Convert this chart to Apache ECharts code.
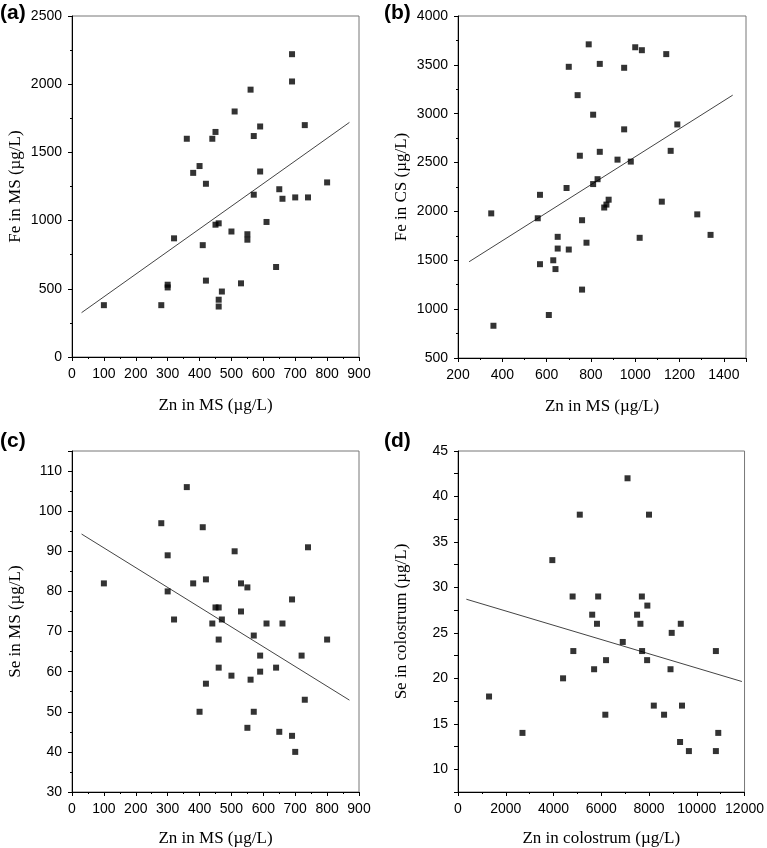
<!DOCTYPE html>
<html>
<head>
<meta charset="utf-8">
<script src="https://cdn.jsdelivr.net/npm/echarts@6/dist/echarts.min.js"></script>
<style>html,body{margin:0;padding:0;background:#fff;}#c{width:767px;height:848px;}</style>
</head>
<body>
<div id="c"></div>
<script>
// Panel (a): Zn in MS vs Fe in MS
const aZn = [100,280,300,300,320,360,380,400,410,420,420,440,450,450,460,460,460,470,500,510,530,550,550,560,570,570,590,590,610,640,650,660,690,690,700,730,740,800];
const aFe = [380,380,530,510,870,1600,1350,1400,820,1270,560,1600,1650,970,980,420,370,480,920,1800,540,900,860,1960,1620,1190,1690,1360,990,660,1230,1160,2220,2020,1170,1700,1170,1280];
const aFitX = [30,870];
const aFitY = [325,1720];

// Panel (b): Zn in MS vs Fe in CS
const bZn = [350,360,560,570,570,610,630,640,650,650,690,700,700,740,750,760,760,780,790,810,810,830,840,840,860,870,880,920,950,950,980,1000,1020,1030,1120,1140,1160,1190,1280,1340];
const bFe = [1980,830,1930,2170,1460,940,1500,1410,1740,1620,2240,3480,1610,3190,2570,1910,1200,1680,3710,2990,2280,2330,3510,2610,2040,2070,2120,2530,3470,2840,2510,3680,1730,3650,2100,3610,2620,2890,1970,1760];
const bFitX = [250,1440];
const bFitY = [1485,3190];

// Panel (c): Zn in MS vs Se in MS
const cZn = [100,280,300,300,320,360,380,400,410,420,420,440,450,460,460,460,470,500,510,530,530,550,550,560,570,570,590,590,610,640,650,660,690,690,700,720,730,740,800];
const cSe = [82,97,89,80,73,106,82,50,96,83,57,72,76,76,68,61,73,59,90,82,75,81,46,58,69,50,64,60,72,61,45,72,78,44,40,64,53,91,68];
const cFitX = [30,870];
const cFitY = [94.3,52.9];

// Panel (d): Zn in colostrum vs Se in colostrum
const dZn = [1300,2700,3950,4400,4800,4830,5100,5620,5700,5820,5870,6170,6200,6900,7100,7500,7640,7700,7710,7920,7930,8000,8200,8630,8900,8950,9300,9330,9380,9670,10800,10800,10900];
const dSe = [18,14,33,20,29,23,38,27,21,26,29,16,22,24,42,27,26,29,23,22,28,38,17,16,21,25,13,26,17,12,23,12,14];
const dFitX = [350,11890];
const dFitY = [28.7,19.65];

const panelLabels = ['(a)','(b)','(c)','(d)'];
const xTitles = ['Zn in MS (\u00b5g/L)','Zn in MS (\u00b5g/L)','Zn in MS (\u00b5g/L)','Zn in colostrum (\u00b5g/L)'];
const yTitles = ['Fe in MS (\u00b5g/L)','Fe in CS (\u00b5g/L)','Se in MS (\u00b5g/L)','Se in colostrum (\u00b5g/L)'];

const zip = (xs, ys) => xs.map((x, i) => [x, ys[i]]);

const grids = [
  {left:72, top:16, width:287, height:341},
  {left:458, top:16, width:288, height:342},
  {left:72, top:451, width:287, height:342},
  {left:458, top:451, width:288, height:342}
];
const xRanges = [
  {min:0,max:900,interval:100},
  {min:200,max:1500,interval:200},
  {min:0,max:900,interval:100},
  {min:0,max:12000,interval:2000}
];
const yRanges = [
  {min:0,max:2500,interval:500},
  {min:500,max:4000,interval:500},
  {min:30,max:115,interval:10},
  {min:7.5,max:45,interval:2.5}
];

const sansFont = 'Liberation Sans';
const serifFont = 'Liberation Serif';

function axisCommon() {
  return {
    axisLine:{show:true,onZero:false,lineStyle:{color:'#000',width:1}},
    axisTick:{show:true,inside:false,length:4,lineStyle:{color:'#000',width:1}},
    minorTick:{show:true,splitNumber:2,length:2,lineStyle:{color:'#000',width:1}},
    splitLine:{show:false},
    nameLocation:'middle',
    nameTextStyle:{fontFamily:serifFont,fontSize:17,color:'#000'}
  };
}

const plain = v => String(v);

const xAxes = xRanges.map((r, i) => Object.assign(axisCommon(), {
  type:'value', gridIndex:i, min:r.min, max:r.max, interval:r.interval,
  name:xTitles[i], nameGap: (i < 2 ? 40 : 38),
  axisLabel:{fontFamily:sansFont,fontSize:14,color:'#000',margin:10,showMaxLabel:(i!==1),formatter:plain}
}));

const yAxes = yRanges.map((r, i) => {
  const ax = Object.assign(axisCommon(), {
    type:'value', gridIndex:i, min:r.min, max:r.max, interval:r.interval,
    name:yTitles[i], nameGap: 48,
    axisLabel:{fontFamily:sansFont,fontSize:14,color:'#000',margin:10,showMaxLabel:(i!==2),formatter:plain}
  });
  if (i === 3) {
    ax.axisLabel.formatter = v => (Math.abs(v % 5) < 1e-9 ? String(v) : '');
    ax.minorTick = {show:false};
  }
  return ax;
});

const scat = [zip(aZn,aFe), zip(bZn,bFe), zip(cZn,cSe), zip(dZn,dSe)];
const fits = [zip(aFitX,aFitY), zip(bFitX,bFitY), zip(cFitX,cFitY), zip(dFitX,dFitY)];

const series = [];
for (let i = 0; i < 4; i++) {
  series.push({
    type:'scatter', xAxisIndex:i, yAxisIndex:i, data:scat[i],
    symbol:'rect', symbolSize:6, itemStyle:{color:'#000'}, silent:true, z:3
  });
  series.push({
    type:'line', xAxisIndex:i, yAxisIndex:i, data:fits[i],
    symbol:'none', lineStyle:{color:'#444',width:1}, silent:true, z:2
  });
}

const graphics = [
  {type:'text', left:0, top:3, style:{text:panelLabels[0], font:'bold 21px "Liberation Sans"', fill:'#000'}},
  {type:'text', left:384, top:3, style:{text:panelLabels[1], font:'bold 21px "Liberation Sans"', fill:'#000'}},
  {type:'text', left:0, top:431, style:{text:panelLabels[2], font:'bold 21px "Liberation Sans"', fill:'#000'}},
  {type:'text', left:384, top:431, style:{text:panelLabels[3], font:'bold 21px "Liberation Sans"', fill:'#000'}}
];

const chart = echarts.init(document.getElementById('c'), null, {renderer:'canvas'});
chart.setOption({
  animation:false,
  backgroundColor:'#fff',
  grid: grids.map(g => Object.assign({show:true, borderColor:'#777', borderWidth:1, backgroundColor:'transparent'}, g)),
  xAxis: xAxes,
  yAxis: yAxes,
  series: series,
  graphic: graphics
});
</script>
</body>
</html>
